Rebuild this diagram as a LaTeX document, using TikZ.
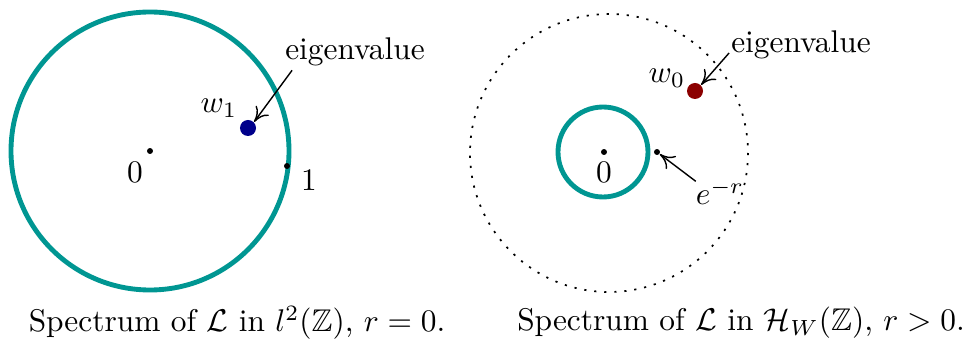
\documentclass[tikz,border=0pt]{standalone}
\usepackage{amssymb}
\usetikzlibrary{positioning,arrows.meta}
\definecolor{SpecTeal}{RGB}{0,150,146}
\definecolor{SpecBlue}{RGB}{0,0,139}
\definecolor{SpecRed}{RGB}{139,0,0}

\begin{document}
\begin{tikzpicture}[
  x=0.0112cm,y=-0.0112cm,
  spec/.style={draw=SpecTeal,line width=1.55pt},
  pt/.style={circle,fill=black,inner sep=0pt,minimum size=1.9pt},
  eig/.style={circle,inner sep=0pt,minimum size=5.1pt},
  lab/.style={inner sep=0.5pt},
  arr/.style={-{To[length=4.6pt,width=5.2pt]},line width=0.45pt},
]
\useasboundingbox (0,0) rectangle (967,340);
% left: r = 0
\draw[spec] (150,151) circle[radius=139];
\node[pt] (o1) at (150,151) {};
\node[lab] (zero1) at (135,172) {$0$};
\node[pt] (one) at (287,166) {};
\node[lab] (onelab) at (309,180) {$1$};
\node[eig,fill=SpecBlue] (w1) at (248,128) {};
\node[lab] (w1lab) at (219,108) {$w_1$};
\node[lab] (ev1) at (355,52) {eigenvalue};
\draw[arr] ([shift={(9,2)}]ev1.south west) -- (w1.north east);
% right: r > 0
\draw[line width=0.55pt,dash pattern=on 0.7pt off 2.5pt] (609,153) circle[radius=139];
\draw[spec] (603,152) circle[radius=45];
\node[pt] (o2) at (604,152) {};
\node[lab] (zero2) at (604,172) {$0$};
\node[pt] (er) at (657,152) {};
\node[lab] (erlab) at (720,192) {$e^{-r}$};
\node[eig,fill=SpecRed] (w0) at (695,91) {};
\node[lab] (w0lab) at (667,78) {$w_0$};
\node[lab] (ev0) at (801,45) {eigenvalue};
\draw[arr] ([shift={(0,8)}]ev0.west) -- (w0.north east);
\draw[arr] ([shift={(2,4)}]erlab.north west) -- (er);
% captions
\node (cap1) at (237,323) {Spectrum of $\mathcal{L}$ in $l^2(\mathbb{Z})$, $r=0$.};
\node (cap0) at (741,323) {Spectrum of $\mathcal{L}$ in $\mathcal{H}_W(\mathbb{Z})$, $r>0$.};
\end{tikzpicture}
\end{document}
